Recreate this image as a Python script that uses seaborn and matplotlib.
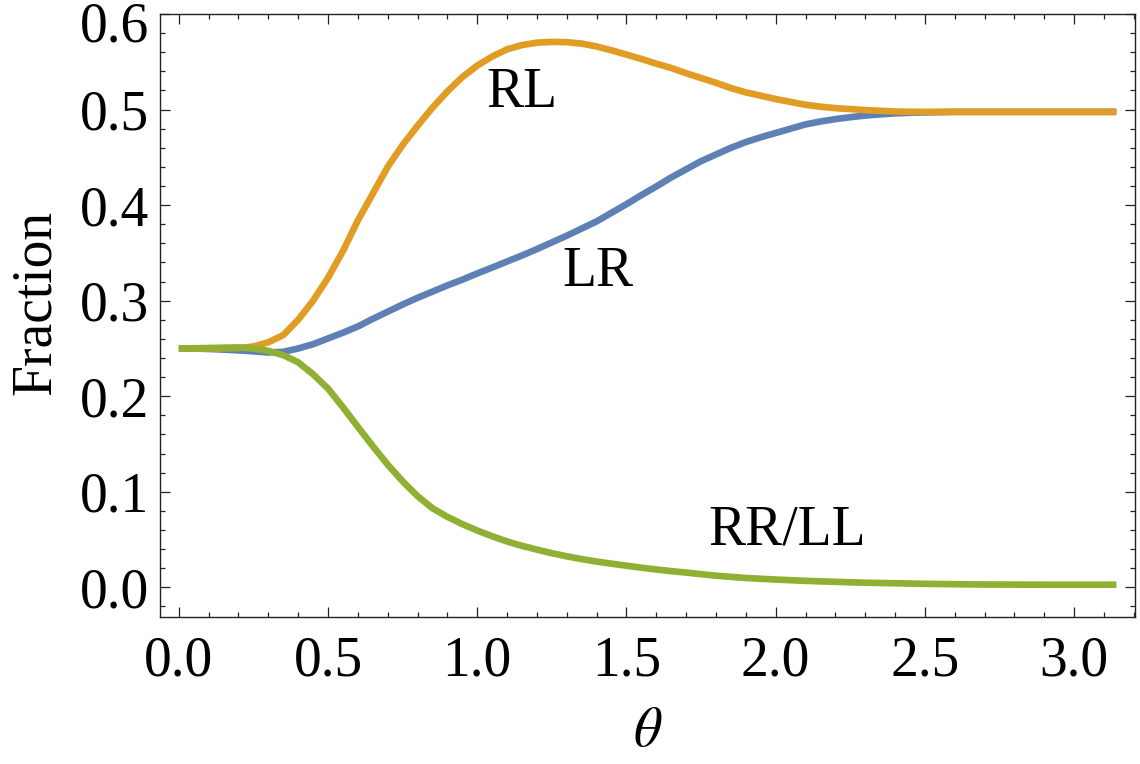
import numpy as np
import pandas as pd
import matplotlib
matplotlib.use("Agg")
import matplotlib.pyplot as plt
import matplotlib.transforms as mtransforms
from matplotlib.ticker import MultipleLocator, FormatStrFormatter
import seaborn as sns

theta = [0.00, 0.05, 0.10, 0.15, 0.20, 0.25, 0.30, 0.35, 0.40, 0.45,
         0.50, 0.55, 0.60, 0.65, 0.70, 0.75, 0.80, 0.85, 0.90, 0.95,
         1.00, 1.05, 1.10, 1.15, 1.20, 1.25, 1.30, 1.35, 1.40, 1.45,
         1.50, 1.55, 1.60, 1.65, 1.70, 1.75, 1.80, 1.85, 1.90, 1.95,
         2.00, 2.05, 2.10, 2.15, 2.20, 2.25, 2.30, 2.35, 2.40, 2.45,
         2.50, 2.60, 2.70, 2.80, 2.90, 3.00, 3.1416]

rl = [0.2500, 0.2500, 0.2500, 0.2502, 0.2505, 0.2520, 0.2565, 0.2640, 0.2800, 0.3000,
      0.3240, 0.3520, 0.3840, 0.4120, 0.4400, 0.4630, 0.4830, 0.5020, 0.5190, 0.5340,
      0.5460, 0.5555, 0.5630, 0.5675, 0.5700, 0.5708, 0.5705, 0.5690, 0.5660, 0.5620,
      0.5575, 0.5530, 0.5480, 0.5435, 0.5380, 0.5330, 0.5280, 0.5225, 0.5180, 0.5145,
      0.5110, 0.5080, 0.5050, 0.5030, 0.5015, 0.5005, 0.4995, 0.4987, 0.4980, 0.4977,
      0.4976, 0.4976, 0.4976, 0.4976, 0.4976, 0.4976, 0.4976]

lr = [0.2500, 0.2499, 0.2495, 0.2488, 0.2480, 0.2470, 0.2458, 0.2465, 0.2500, 0.2545,
      0.2605, 0.2665, 0.2730, 0.2810, 0.2885, 0.2960, 0.3030, 0.3095, 0.3160, 0.3220,
      0.3285, 0.3347, 0.3410, 0.3473, 0.3540, 0.3610, 0.3680, 0.3755, 0.3830, 0.3920,
      0.4010, 0.4105, 0.4195, 0.4290, 0.4375, 0.4460, 0.4530, 0.4600, 0.4660, 0.4710,
      0.4755, 0.4800, 0.4845, 0.4875, 0.4900, 0.4920, 0.4937, 0.4950, 0.4960, 0.4967,
      0.4970, 0.4976, 0.4976, 0.4976, 0.4976, 0.4976, 0.4976]

rr_ll = [0.2500, 0.2502, 0.2505, 0.2508, 0.2510, 0.2500, 0.2475, 0.2430, 0.2355, 0.2230,
         0.2080, 0.1885, 0.1680, 0.1478, 0.1285, 0.1110, 0.0955, 0.0828, 0.0738, 0.0662,
         0.0595, 0.0535, 0.0480, 0.0435, 0.0395, 0.0358, 0.0325, 0.0296, 0.0270, 0.0248,
         0.0227, 0.0206, 0.0187, 0.0170, 0.0155, 0.0138, 0.0122, 0.0110, 0.0098, 0.0090,
         0.0082, 0.0075, 0.0068, 0.0063, 0.0058, 0.0053, 0.0049, 0.0046, 0.0043, 0.0040,
         0.0037, 0.0033, 0.0030, 0.0029, 0.0028, 0.0028, 0.0028]

series_names = ["LR", "RL", "RR/LL"]
colors = ["#5E81B5", "#E19C24", "#8FB032"]

labels_text = ["RL", "LR", "RR/LL"]
labels_x = [1.15, 1.405, 2.038]
labels_y = [0.5028, 0.3149, 0.0445]

xticks = [0.0, 0.5, 1.0, 1.5, 2.0, 2.5, 3.0]
yticks = [0.0, 0.1, 0.2, 0.3, 0.4, 0.5, 0.6]

sns.set_theme(style="ticks")
plt.rcParams["font.family"] = ["Liberation Serif", "DejaVu Serif"]
plt.rcParams["mathtext.fontset"] = "stix"
plt.rcParams["text.color"] = "black"
plt.rcParams["axes.labelcolor"] = "black"
plt.rcParams["xtick.labelcolor"] = "black"
plt.rcParams["ytick.labelcolor"] = "black"

n = len(theta)
df = pd.DataFrame({
    "theta": theta + theta + theta,
    "value": lr + rl + rr_ll,
    "series": [series_names[0]] * n + [series_names[1]] * n + [series_names[2]] * n,
})

fig = plt.figure(figsize=(11.4, 7.64), dpi=100)
ax = fig.add_axes([160 / 1140, 1 - 617 / 764, (1135 - 160) / 1140, (617 - 14) / 764])

sns.lineplot(data=df, x="theta", y="value", hue="series", hue_order=series_names,
             palette=colors, linewidth=4.8, legend=False, ax=ax, sort=False)
for line in ax.lines:
    line.set_solid_capstyle("butt")
    line.set_solid_joinstyle("round")

fs = 40
for t, x, y in zip(labels_text, labels_x, labels_y):
    ax.text(x, y, t, ha="center", va="baseline", fontsize=fs, color="black")

ax.set_xlim(-0.063, 3.204)
ax.set_ylim(-0.031, 0.6)
ax.set_xticks(xticks)
ax.set_yticks(yticks)
ax.xaxis.set_major_formatter(FormatStrFormatter("%.1f"))
ax.yaxis.set_major_formatter(FormatStrFormatter("%.1f"))
ax.xaxis.set_minor_locator(MultipleLocator(0.1))
ax.yaxis.set_minor_locator(MultipleLocator(0.02))

ax.tick_params(which="both", direction="in", top=True, right=True,
               color="#222222", width=0.9)
ax.tick_params(axis="y", which="major", length=7, labelsize=fs, pad=8)
ax.tick_params(axis="x", which="major", length=7, labelsize=fs, pad=13)
ax.tick_params(which="minor", length=3.5)
for s in ax.spines.values():
    s.set_color("#222222")
    s.set_linewidth(1.0)

ax.set_xlabel(r"$\theta$", fontsize=fs)
ax.set_ylabel("Fraction", fontsize=fs)
ax.xaxis.set_label_coords(0.5, -0.148)
ax.yaxis.set_label_coords(-0.1005, 0.522)

fig.canvas.draw()
# shift the top y tick label down so it is not clipped
for lab in ax.get_yticklabels():
    if lab.get_text() == "0.6":
        lab.set_transform(lab.get_transform() + mtransforms.ScaledTranslation(0, -7 / 100, fig.dpi_scale_trans))

fig.savefig("out.png", dpi=100)
